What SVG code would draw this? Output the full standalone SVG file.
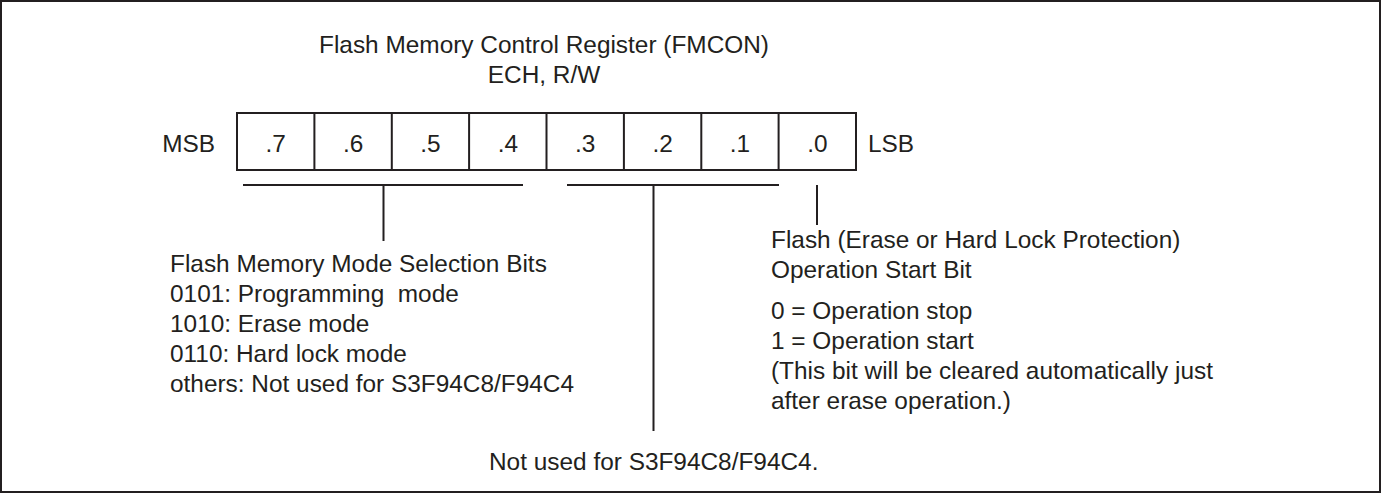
<svg xmlns="http://www.w3.org/2000/svg" width="1382" height="493" viewBox="0 0 1382 493">
<style>
text{font-family:"Liberation Sans",Arial,sans-serif;font-size:24.4px;fill:#231f20;white-space:pre}
.c{text-anchor:middle}
.ln{stroke:#231f20;stroke-width:2;fill:none}
</style>
<rect x="0" y="0" width="1382" height="493" fill="#ffffff"/>
<rect class="ln" x="1" y="1" width="1379" height="491"/>
<g id="title">
<text class="c" x="544" y="53">Flash Memory Control Register (FMCON)</text>
<text class="c" x="544" y="83">ECH, R/W</text>
</g>
<g id="register">
<text x="215" y="152" text-anchor="end">MSB</text>
<rect class="ln" x="237" y="113" width="619" height="57"/>
<path class="ln" d="M314.4 113V170M391.8 113V170M469.1 113V170M546.5 113V170M623.9 113V170M701.3 113V170M778.6 113V170"/>
<text class="c" x="275.7" y="152">.7</text>
<text class="c" x="353.1" y="152">.6</text>
<text class="c" x="430.4" y="152">.5</text>
<text class="c" x="507.8" y="152">.4</text>
<text class="c" x="585.2" y="152">.3</text>
<text class="c" x="662.6" y="152">.2</text>
<text class="c" x="740" y="152">.1</text>
<text class="c" x="817.3" y="152">.0</text>
<text x="868" y="152">LSB</text>
</g>
<g id="connectors">
<path class="ln" d="M243 185H523M383.5 185V241"/>
<path class="ln" d="M567 185H779M653.5 185V431"/>
<path class="ln" d="M817 185V225"/>
</g>
<g id="mode-bits">
<text x="170" y="272">Flash Memory Mode Selection Bits</text>
<text x="170" y="302" xml:space="preserve">0101: Programming  mode</text>
<text x="170" y="332">1010: Erase mode</text>
<text x="170" y="362">0110: Hard lock mode</text>
<text x="170" y="392">others: Not used for S3F94C8/F94C4</text>
</g>
<g id="start-bit">
<text x="771" y="248">Flash (Erase or Hard Lock Protection)</text>
<text x="771" y="278">Operation Start Bit</text>
<text x="771" y="319">0 = Operation stop</text>
<text x="771" y="349">1 = Operation start</text>
<text x="771" y="379">(This bit will be cleared automatically just</text>
<text x="771" y="409">after erase operation.)</text>
</g>
<g id="unused">
<text x="489" y="470">Not used for S3F94C8/F94C4.</text>
</g>
</svg>
